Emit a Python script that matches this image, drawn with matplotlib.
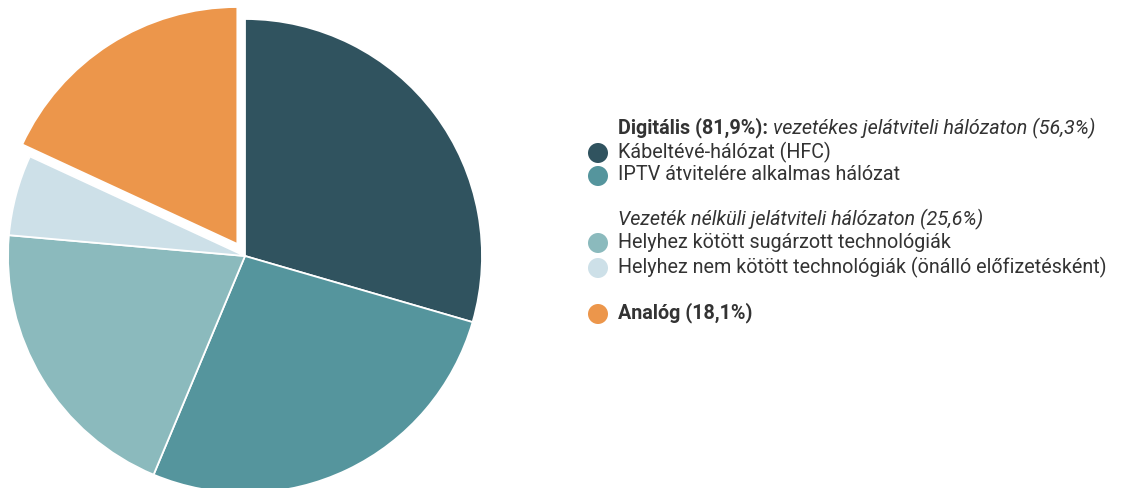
import matplotlib.pyplot as plt
from matplotlib.patches import Circle

plt.rcParams['font.family'] = ['Roboto', 'DejaVu Sans']

# data (share in %)
labels = ['Kábeltévé-hálózat (HFC)', 'IPTV átvitelére alkalmas hálózat',
          'Helyhez kötött sugárzott technológiák',
          'Helyhez nem kötött technológiák (önálló előfizetésként)',
          'Analóg (18,1%)']
values = [29.5, 26.8, 20.1, 5.5, 18.1]
colors = ['#30535f', '#55959d', '#8bbabd', '#cde0e8', '#ec964b']
explode = [0, 0, 0, 0, 0.06]

W, H = 1141, 488
fig = plt.figure(figsize=(W / 100, H / 100), dpi=100)

# pie axes: centre at (245, 256) px from top-left, radius 237 px
cx, cy, r = 245, 256, 237
ax = fig.add_axes([(cx - r) / W, (H - cy - r) / H, 2 * r / W, 2 * r / H])
wedges, _ = ax.pie(values, colors=colors, startangle=90, counterclock=False,
                   explode=explode,
                   wedgeprops=dict(edgecolor='white', linewidth=1.3))
for w in wedges:
    w.set_clip_on(False)
ax.set_xlim(-1, 1)
ax.set_ylim(-1, 1)
ax.set_aspect('equal')
ax.axis('off')

# legend drawn in pixel coordinates
lg = fig.add_axes([0, 0, 1, 1])
lg.set_xlim(0, W)
lg.set_ylim(H, 0)
lg.axis('off')

txt_col = '#333333'
fs = 14.2
tx = 618
mx = 598

renderer = fig.canvas.get_renderer()

def two_part(y, bold, italic):
    t = lg.text(tx, y, bold, fontsize=fs, fontweight='bold', color=txt_col,
                va='center', ha='left')
    bb = t.get_window_extent(renderer=renderer)
    x2 = bb.x1 + 5
    lg.text(x2, y, italic, fontsize=fs, fontstyle='italic', color=txt_col,
            va='center', ha='left')

def item(y, label, color, weight='normal'):
    lg.add_patch(Circle((mx, y + 1), 10, color=color, lw=0))
    lg.text(tx, y, label, fontsize=fs, color=txt_col, va='center', ha='left',
            fontweight=weight)

two_part(128, 'Digitális (81,9%):', 'vezetékes jelátviteli hálózaton (56,3%)')
item(152, labels[0], colors[0])
item(175, labels[1], colors[1])
lg.text(tx, 219, 'Vezeték nélküli jelátviteli hálózaton (25,6%)', fontsize=fs,
        fontstyle='italic', color=txt_col, va='center', ha='left')
item(242, labels[2], colors[2])
item(267, labels[3], colors[3])
item(313, labels[4], colors[4], weight='bold')

fig.savefig('out.png', dpi=100)
